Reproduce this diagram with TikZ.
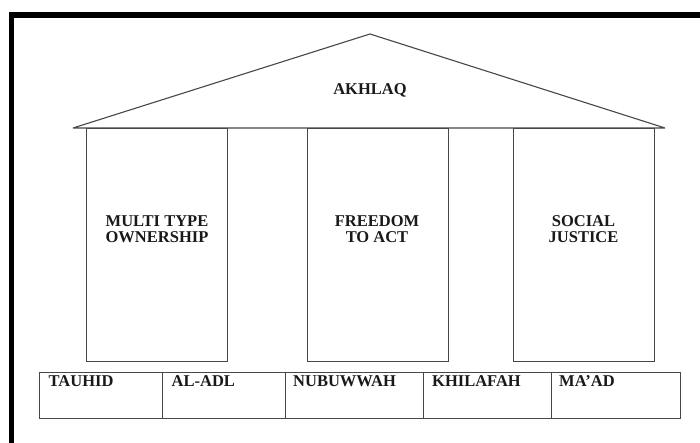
\documentclass[tikz,border=0pt]{standalone}
\usepackage{fontspec}
\setmainfont{Liberation Serif}
\begin{document}
\begin{tikzpicture}[x=1pt,y=-1pt,
  line/.style={draw=black!72,line width=1.3pt},
  pillar/.style={line,rectangle,minimum width=141pt,minimum height=233pt,inner sep=0pt,anchor=north west},
  cell/.style={line,rectangle,minimum height=46pt,inner sep=0pt,anchor=north west},
  lbl/.style={font=\bfseries\fontsize{16.5}{16}\selectfont,align=center,inner sep=0pt,text=black!90},
  cl/.style={font=\bfseries\fontsize{16.5}{16}\selectfont,inner sep=0pt,anchor=base west,text=black!90}]
\useasboundingbox (0,0) rectangle (700,443);
\fill[white] (0,0) rectangle (700,443);
% outer frame (left and top)
\draw[line width=5.5pt,black] (11.5,443) -- (11.5,15) -- (700,15);
% roof
\coordinate (rl) at (73,128);
\coordinate (rr) at (665,128);
\coordinate (apex) at (370,34);
\draw[line,line width=1.1pt,line join=bevel] (rl) -- (apex) -- (rr) -- cycle;
\node[lbl] (akhlaq) at (370,90) {AKHLAQ};
% pillars
\node[pillar] (p1) at (86,128) {};
\node[pillar] (p2) at (306.5,128) {};
\node[pillar] (p3) at (513,128) {};
\node[lbl] (t1) at (157,229) {MULTI TYPE\\OWNERSHIP};
\node[lbl] (t2) at (377,229) {FREEDOM\\TO ACT};
\node[lbl] (t3) at (583.5,229) {SOCIAL\\JUSTICE};
% base cells
\node[cell,minimum width=123pt] (c1) at (39,372) {};
\node[cell,minimum width=123pt] (c2) at (162,372) {};
\node[cell,minimum width=138pt] (c3) at (285,372) {};
\node[cell,minimum width=128pt] (c4) at (423,372) {};
\node[cell,minimum width=129pt] (c5) at (551,372) {};
\node[cl] at ([xshift=9.5pt,yshift=-14pt]c1.north west) {TAUHID};
\node[cl] at ([xshift=9.5pt,yshift=-14pt]c2.north west) {AL-ADL};
\node[cl] at ([xshift=8pt,yshift=-14pt]c3.north west) {NUBUWWAH};
\node[cl] at ([xshift=9pt,yshift=-14pt]c4.north west) {KHILAFAH};
\node[cl] at ([xshift=8pt,yshift=-14pt]c5.north west) {MA’AD};
\end{tikzpicture}
\end{document}
